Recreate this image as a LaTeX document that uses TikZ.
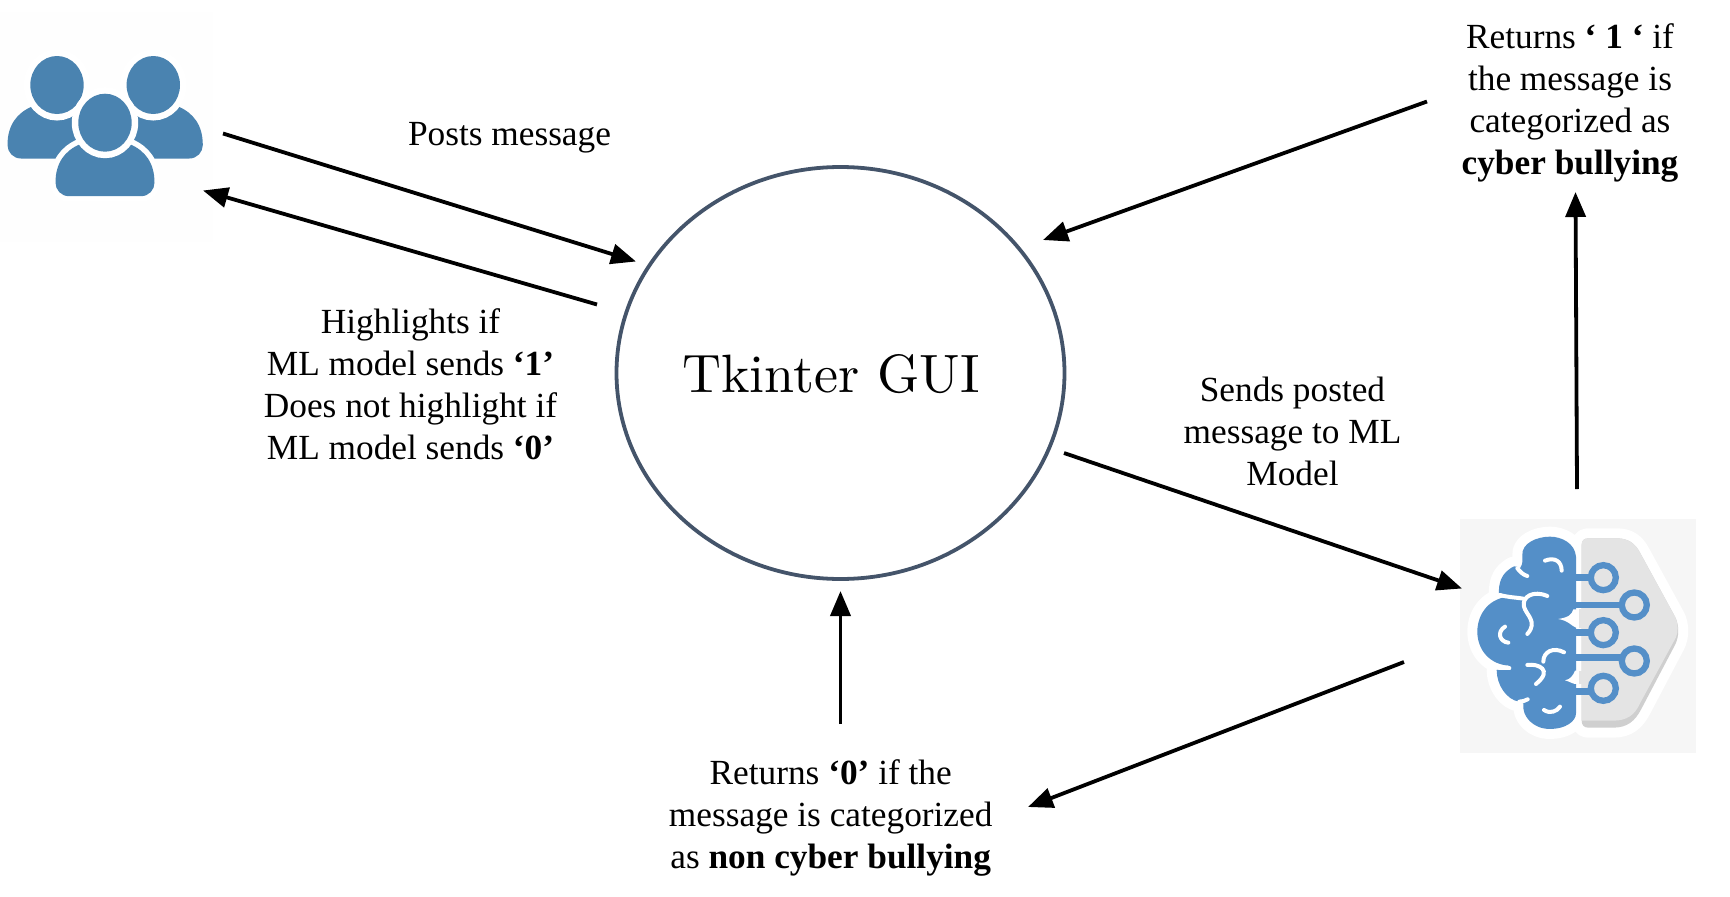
\documentclass[tikz,border=0pt]{standalone}
\usepackage{fontspec}
\setmainfont{Liberation Serif}
\usetikzlibrary{shapes.geometric,arrows.meta}
\definecolor{ringc}{HTML}{44546A}
\definecolor{userc}{HTML}{4A83B0}
\definecolor{brainc}{HTML}{548FC8}
\definecolor{greyc}{HTML}{E4E4E4}
\definecolor{shadec}{HTML}{CFCFCF}
\definecolor{panelc}{HTML}{F6F6F6}
\definecolor{faintc}{HTML}{FEFEFE}
\tikzset{
  flow/.style={line width=3.8pt,-{Triangle[length=25pt,width=20pt]}},
  lbl/.style={align=center,font=\fontsize{35.3}{42}\selectfont,inner sep=0pt,text=black},
  guinode/.style={ellipse,draw=ringc,line width=3.8pt,minimum width=448pt,minimum height=412pt,inner sep=0pt},
  brainstroke/.style={draw=white,line width=4pt,line cap=round}
}
\newcommand{\personbody}{(-36,73.5) .. controls (-44,73.5) and (-49.5,67) .. (-49.5,60) .. controls (-49.5,40) and (-40,28) .. (-25,21.5) -- (25,21.5) .. controls (40,28) and (49.5,40) .. (49.5,60) .. controls (49.5,67) and (44,73.5) .. (36,73.5) -- cycle}
\newcommand{\personhead}{(0,0) ellipse [x radius=26.7,y radius=29]}
\newcommand{\brainoutline}{(408,170) .. controls (405,130) and (365,110) .. (330,110) .. controls (290,110) and (245,130) .. (247,165) .. controls (247,180) and (250,190) .. (240,205) .. controls (225,195) and (220,198) .. (205,210) .. controls (185,225) and (175,250) .. (177,282) .. controls (190,290) and (205,290) .. (215,290) .. controls (150,290) and (112,340) .. (112,395) .. controls (112,450) and (150,495) .. (210,497) -- (170,510) .. controls (170,555) and (200,600) .. (238,605) -- (250,610) .. controls (245,650) and (280,687) .. (330,687) .. controls (375,687) and (408,665) .. (408,640) -- cycle}
\newcommand{\hexoutline}{(425,135) .. controls (425,122) and (432,115) .. (445,115) -- (530,115) .. controls (565,115) and (585,130) .. (600,158) -- (705,350) .. controls (718,375) and (718,410) .. (705,435) -- (605,625) .. controls (585,665) and (560,683) .. (520,683) -- (445,683) .. controls (432,683) and (425,675) .. (425,662) -- cycle}
\begin{document}
\begin{tikzpicture}[x=1pt,y=-1pt]
\useasboundingbox (0,0) rectangle (1730,897);
% users icon
\fill[faintc] (0,12) rectangle (213,242);
\begin{scope}[shift={(57,85)}]
  \fill[userc] \personbody;
  \fill[userc,draw=white,line width=13pt] \personhead;
  \fill[userc] \personhead;
\end{scope}
\begin{scope}[shift={(153.3,85)}]
  \fill[userc] \personbody;
  \fill[userc,draw=white,line width=13pt] \personhead;
  \fill[userc] \personhead;
\end{scope}
\begin{scope}[shift={(105,122.7)}]
  \fill[white,draw=white,line width=11pt] \personbody;
  \fill[userc] \personbody;
  \fill[white,draw=white,line width=13pt] \personhead;
  \fill[userc] \personhead;
\end{scope}
% brain icon
\begin{scope}[shift={(1440,500)},x=0.3333pt,y=-0.3333pt]
  \fill[panelc] (60,57) rectangle (768,758);
  \fill[white,draw=white,line width=20pt,line join=round] \brainoutline;
  \fill[white,draw=white,line width=20pt,line join=round] \hexoutline;
  \fill[shadec] \hexoutline;
  \fill[greyc] (425,135) .. controls (425,122) and (432,115) .. (445,115) -- (530,115) .. controls (565,115) and (585,130) .. (600,158) -- (705,350) .. controls (715,372) and (715,395) .. (708,412) -- (600,610) .. controls (585,645) and (560,662) .. (520,662) -- (425,662) -- cycle;
  \fill[brainc] \brainoutline;
  % circuit
  \draw[brainc,line width=7pt] (400,233) -- (455,233);
  \draw[brainc,line width=6.5pt] (390,315) -- (550,315);
  \draw[brainc,line width=6.5pt] (400,398) -- (455,398);
  \draw[brainc,line width=6.5pt] (400,473) -- (550,473);
  \draw[brainc,line width=6.5pt] (400,575) -- (455,575);
  \foreach \cx/\cy in {490/233,583/315,490/398,583/483,490/565}{
    \draw[brainc,fill=greyc,line width=6.3pt] (\cx,\cy) circle [radius=37.5];
  }
  % notches
  \fill[white] (355,357) .. controls (385,352) and (395,345) .. (400,328) -- (418,328) -- (418,383) -- (408,383) .. controls (395,378) and (385,362) .. (355,357) -- cycle;
  \fill[greyc] (418,328) -- (430,328) -- (430,383) -- (418,383) -- cycle;
  \fill[white] (375,541) .. controls (392,538) and (400,525) .. (405,512) -- (418,512) -- (418,552) -- (405,552) .. controls (395,550) and (385,543) .. (375,541) -- cycle;
  \fill[greyc] (418,512) -- (430,512) -- (430,552) -- (418,552) -- cycle;
  % folds
  \draw[brainstroke] (315,182) .. controls (345,170) and (365,185) .. (365,212);
  \draw[brainstroke] (205,428) .. controls (178,425) and (170,395) .. (195,380);
  \draw[brainstroke] (322,288) .. controls (280,270) and (245,290) .. (252,320) .. controls (258,345) and (295,365) .. (262,402);
  \draw[brainstroke] (372,457) .. controls (340,440) and (310,455) .. (310,485);
  \draw[brainstroke] (262,495) .. controls (295,490) and (340,510) .. (288,552);
  \draw[brainstroke] (312,630) .. controls (330,642) and (350,635) .. (360,620);
  \draw[brainstroke] (177,505) -- (208,505);
  \draw[brainstroke] (232,205) .. controls (240,215) and (250,225) .. (262,228);
  \draw[brainstroke] (238,605) .. controls (248,605) and (255,602) .. (263,598);
  \draw[brainstroke] (180,285) .. controls (205,292) and (225,292) .. (250,296);
\end{scope}
% gui
\node[guinode] (gui) at (840.5,373) {};
\node[inner sep=0pt,anchor=base,scale=5.4,font=\fontfamily{lmr}\fontsize{10}{12}\selectfont,text=black] (guilabel) at (831,392) {Tkinter GUI};
% labels
\node[lbl] (posts) at (509.5,138) {Posts message};
\node[lbl] (high) at (410.5,384) {Highlights if\\ML model sends \textbf{‘1’}\\Does not highlight if\\ML model sends \textbf{‘0’}};
\node[lbl] (ret1) at (1570,103) {Returns \textbf{‘ 1 ‘} if\\the message is\\categorized as\\\textbf{cyber bullying}};
\node[lbl] (send) at (1292.5,431) {Sends posted\\message to ML\\Model};
\node[lbl] (ret0) at (830.7,818) {Returns \textbf{‘0’} if the\\message is categorized\\as \textbf{non cyber bullying}};
% connector ends
\coordinate (u1) at (223,133.5);
\coordinate (u2) at (203,190.5);
\coordinate (g1) at (636,261.5);
\coordinate (g2) at (597,304.5);
\coordinate (g3) at (1043,240);
\coordinate (t1) at (1427,101.5);
\coordinate (m1) at (1577,489);
\coordinate (t2) at (1575.5,192);
\coordinate (g4) at (1064,453);
\coordinate (m2) at (1462,588.5);
\coordinate (m3) at (1404,662);
\coordinate (b1) at (1028,807);
\coordinate (b2) at (840.5,724);
\coordinate (g5) at (840.5,591);
\draw[flow] (u1) -- (g1);
\draw[flow] (g2) -- (u2);
\draw[flow] (t1) -- (g3);
\draw[flow] (m1) -- (t2);
\draw[flow] (g4) -- (m2);
\draw[flow] (m3) -- (b1);
\draw[flow] (b2) -- (g5);
\end{tikzpicture}
\end{document}
